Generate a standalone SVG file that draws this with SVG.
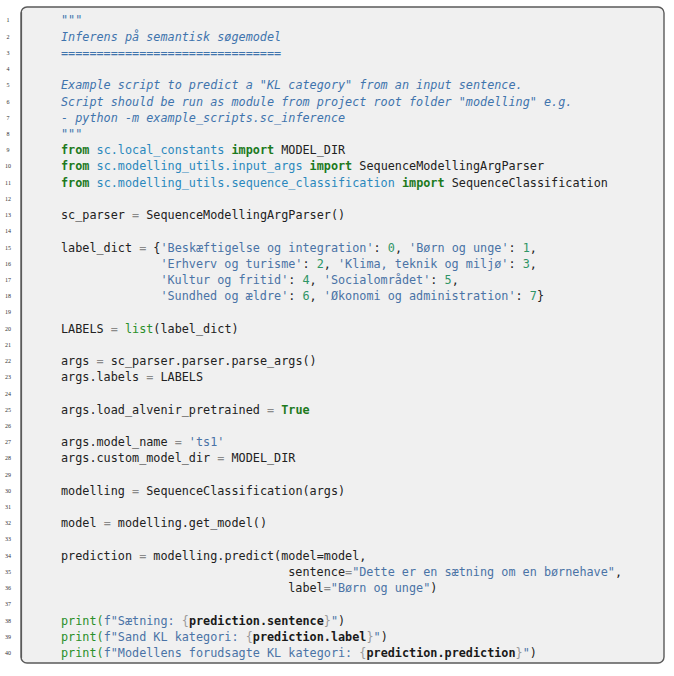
<svg xmlns="http://www.w3.org/2000/svg" width="674" height="676" viewBox="0 0 674 676">
<style>
.code{font-family:"DejaVu Sans Mono","Liberation Mono",monospace;font-size:11.8px;fill:#222;white-space:pre}
.ln{font-family:"Liberation Serif","DejaVu Serif",serif;font-size:6px;fill:#333;text-anchor:middle}
.doc{fill:#3f74ad;font-style:italic}
.kw{fill:#1d7a1d;font-weight:bold}
.bi{fill:#2a8f2a}
.mod{fill:#2b88bd}
.str{fill:#4a73a6}
.num{fill:#2f9566}
.op{fill:#8a8a8a}
.br{fill:#9a9a9a}
.var{font-weight:bold;fill:#1a1a1a}
</style>
<rect x="0" y="0" width="674" height="676" fill="#ffffff"/>
<g id="listing-box">
<rect x="21" y="7" width="643" height="656" rx="6" ry="6" fill="#f0f0f0" stroke="#5a5a5a" stroke-width="1.4"/>
<line x1="21.5" y1="12" x2="21.5" y2="658" stroke="#5a5a5a" stroke-width="1.2"/>
</g>
<g id="line-numbers">
<text class="ln" x="8" y="22.4">1</text>
<text class="ln" x="8" y="38.6">2</text>
<text class="ln" x="8" y="54.8">3</text>
<text class="ln" x="8" y="71.1">4</text>
<text class="ln" x="8" y="87.3">5</text>
<text class="ln" x="8" y="103.5">6</text>
<text class="ln" x="8" y="119.7">7</text>
<text class="ln" x="8" y="135.9">8</text>
<text class="ln" x="8" y="152.2">9</text>
<text class="ln" x="8" y="168.4">10</text>
<text class="ln" x="8" y="184.6">11</text>
<text class="ln" x="8" y="200.8">12</text>
<text class="ln" x="8" y="217.0">13</text>
<text class="ln" x="8" y="233.3">14</text>
<text class="ln" x="8" y="249.5">15</text>
<text class="ln" x="8" y="265.7">16</text>
<text class="ln" x="8" y="281.9">17</text>
<text class="ln" x="8" y="298.1">18</text>
<text class="ln" x="8" y="314.4">19</text>
<text class="ln" x="8" y="330.6">20</text>
<text class="ln" x="8" y="346.8">21</text>
<text class="ln" x="8" y="363.0">22</text>
<text class="ln" x="8" y="379.2">23</text>
<text class="ln" x="8" y="395.5">24</text>
<text class="ln" x="8" y="411.7">25</text>
<text class="ln" x="8" y="427.9">26</text>
<text class="ln" x="8" y="444.1">27</text>
<text class="ln" x="8" y="460.3">28</text>
<text class="ln" x="8" y="476.6">29</text>
<text class="ln" x="8" y="492.8">30</text>
<text class="ln" x="8" y="509.0">31</text>
<text class="ln" x="8" y="525.2">32</text>
<text class="ln" x="8" y="541.4">33</text>
<text class="ln" x="8" y="557.7">34</text>
<text class="ln" x="8" y="573.9">35</text>
<text class="ln" x="8" y="590.1">36</text>
<text class="ln" x="8" y="606.3">37</text>
<text class="ln" x="8" y="622.5">38</text>
<text class="ln" x="8" y="638.8">39</text>
<text class="ln" x="8" y="655.0">40</text>
</g>
<g id="code" xml:space="preserve">
<text class="code doc" x="61" y="24.4">"""</text>
<text class="code doc" x="61" y="40.6">Inferens på semantisk søgemodel</text>
<text class="code doc" x="61" y="56.8">===============================</text>
<text class="code doc" x="61" y="89.3">Example script to predict a "KL category" from an input sentence.</text>
<text class="code doc" x="61" y="105.5">Script should be run as module from project root folder "modelling" e.g.</text>
<text class="code doc" x="61" y="121.7">- python -m example_scripts.sc_inference</text>
<text class="code doc" x="61" y="137.9">"""</text>
<text class="code" x="61" y="154.2"><tspan class="kw">from</tspan> <tspan class="mod">sc.local_constants</tspan> <tspan class="kw">import</tspan> MODEL_DIR</text>
<text class="code" x="61" y="170.4"><tspan class="kw">from</tspan> <tspan class="mod">sc.modelling_utils.input_args</tspan> <tspan class="kw">import</tspan> SequenceModellingArgParser</text>
<text class="code" x="61" y="186.6"><tspan class="kw">from</tspan> <tspan class="mod">sc.modelling_utils.sequence_classification</tspan> <tspan class="kw">import</tspan> SequenceClassification</text>
<text class="code" x="61" y="219.0">sc_parser <tspan class="op">=</tspan> SequenceModellingArgParser()</text>
<text class="code" x="61" y="251.5">label_dict <tspan class="op">=</tspan> {<tspan class="str">'Beskæftigelse og integration'</tspan>: <tspan class="num">0</tspan>, <tspan class="str">'Børn og unge'</tspan>: <tspan class="num">1</tspan>,</text>
<text class="code" x="160.4" y="267.7"><tspan class="str">'Erhverv og turisme'</tspan>: <tspan class="num">2</tspan>, <tspan class="str">'Klima, teknik og miljø'</tspan>: <tspan class="num">3</tspan>,</text>
<text class="code" x="160.4" y="283.9"><tspan class="str">'Kultur og fritid'</tspan>: <tspan class="num">4</tspan>, <tspan class="str">'Socialområdet'</tspan>: <tspan class="num">5</tspan>,</text>
<text class="code" x="160.4" y="300.1"><tspan class="str">'Sundhed og ældre'</tspan>: <tspan class="num">6</tspan>, <tspan class="str">'Økonomi og administration'</tspan>: <tspan class="num">7</tspan>}</text>
<text class="code" x="61" y="332.6">LABELS <tspan class="op">=</tspan> <tspan class="bi">list</tspan>(label_dict)</text>
<text class="code" x="61" y="365.0">args <tspan class="op">=</tspan> sc_parser.parser.parse_args()</text>
<text class="code" x="61" y="381.2">args.labels <tspan class="op">=</tspan> LABELS</text>
<text class="code" x="61" y="413.7">args.load_alvenir_pretrained <tspan class="op">=</tspan> <tspan class="kw">True</tspan></text>
<text class="code" x="61" y="446.1">args.model_name <tspan class="op">=</tspan> <tspan class="str">'ts1'</tspan></text>
<text class="code" x="61" y="462.3">args.custom_model_dir <tspan class="op">=</tspan> MODEL_DIR</text>
<text class="code" x="61" y="494.8">modelling <tspan class="op">=</tspan> SequenceClassification(args)</text>
<text class="code" x="61" y="527.2">model <tspan class="op">=</tspan> modelling.get_model()</text>
<text class="code" x="61" y="559.7">prediction <tspan class="op">=</tspan> modelling.predict(model=model,</text>
<text class="code" x="288.2" y="575.9">sentence<tspan class="op">=</tspan><tspan class="str">"Dette er en sætning om en børnehave"</tspan>,</text>
<text class="code" x="288.2" y="592.1">label<tspan class="op">=</tspan><tspan class="str">"Børn og unge"</tspan>)</text>
<text class="code" x="61" y="624.5"><tspan class="bi">print(</tspan><tspan class="str">f"Sætning: </tspan><tspan class="br">{</tspan><tspan class="var">prediction.sentence</tspan><tspan class="br">}</tspan><tspan class="str">"</tspan>)</text>
<text class="code" x="61" y="640.8"><tspan class="bi">print(</tspan><tspan class="str">f"Sand KL kategori: </tspan><tspan class="br">{</tspan><tspan class="var">prediction.label</tspan><tspan class="br">}</tspan><tspan class="str">"</tspan>)</text>
<text class="code" x="61" y="657.0"><tspan class="bi">print(</tspan><tspan class="str">f"Modellens forudsagte KL kategori: </tspan><tspan class="br">{</tspan><tspan class="var">prediction.prediction</tspan><tspan class="br">}</tspan><tspan class="str">"</tspan>)</text>
</g>
</svg>
